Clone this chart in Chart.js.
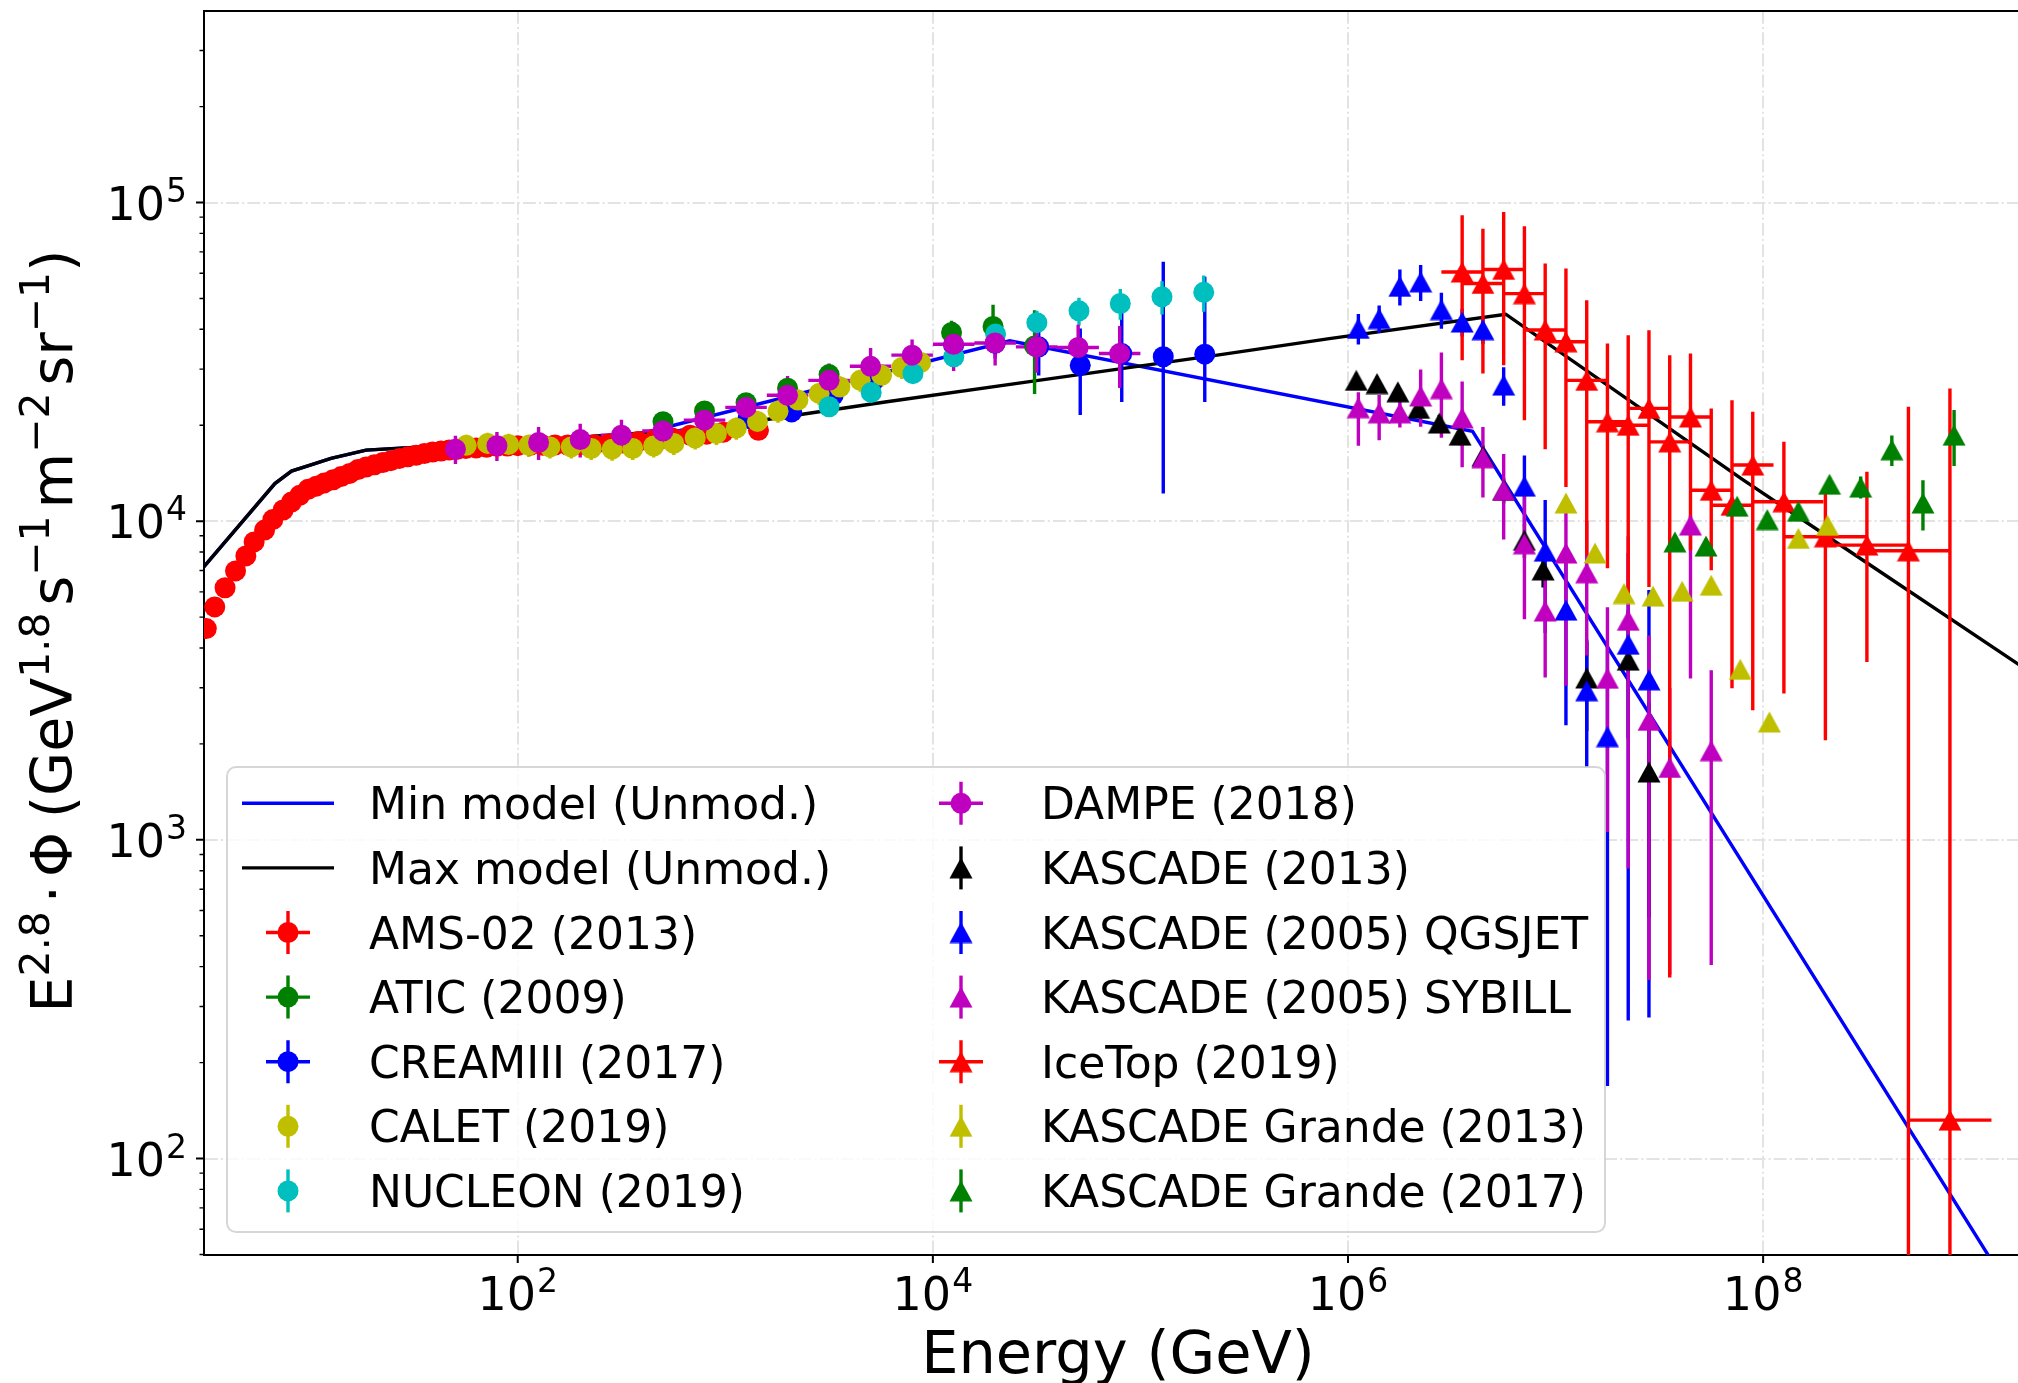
<!DOCTYPE html>
<html>
<head>
<meta charset="utf-8">
<title>Proton flux</title>
<script src="https://cdn.jsdelivr.net/npm/chart.js@4.4.1/dist/chart.umd.min.js"></script>
<style>
html, body { margin: 0; padding: 0; background: #ffffff; overflow: hidden; }
#flux { display: block; }
</style>
</head>
<body>
<canvas id="flux" width="2018" height="1383"></canvas>
<script>
"use strict";

// ---- axes ----
const xTicks = [1e2, 1e4, 1e6, 1e8];
const xTickExps = ['2', '4', '6', '8'];
const yTicks = [1e2, 1e3, 1e4, 1e5];
const yTickExps = ['2', '3', '4', '5'];

// ---- models ----
const minModelE = [2.82, 6.76, 8.13, 10, 12.6, 18.6, 100, 398, 23442, 3.981e6, 2.0e9];
const minModelF = [6730, 13122, 14355, 15000, 15740, 16711, 17783, 18880, 36813, 19143, 29.6];
const maxModelE = [2.82, 6.76, 8.13, 10, 12.6, 18.6, 100, 603, 1585, 5888, 31623, 234423, 812831, 5.754e6, 7.943e7, 2.630e8, 2.0e9];
const maxModelF = [6730, 13122, 14355, 15000, 15740, 16711, 17783, 19275, 20845, 23660, 27606, 33189, 37411, 44618, 13521, 8017, 3311];

// ---- direct measurements ----
const amsE = [3.16, 3.47, 3.89, 4.37, 4.90, 5.37, 6.03, 6.61, 7.41, 8.13, 8.91, 9.77, 10.7, 11.7, 12.9, 14.1, 15.5, 17.0, 18.6, 20.4,
  22.4, 24.5, 26.9, 29.5, 32.4, 35.5, 38.9, 42.7, 46.8, 51.3, 56.2, 63.1, 70.8, 79.4, 89.1, 100, 115, 132, 151, 174,
  200, 234, 275, 324, 380, 457, 550, 676, 813, 977, 1445];
const amsF = [4603, 5383, 6180, 6982, 7780, 8610, 9376, 10116, 10839, 11482, 12050, 12589, 12882, 13183, 13490, 13804, 14125, 14521, 14791, 15031,
  15276, 15488, 15740, 15922, 16106, 16293, 16482, 16596, 16711, 16827, 16904, 16982, 17061, 17179, 17219, 17258, 17298, 17298, 17338, 17338,
  17378, 17378, 17458, 17579, 17783, 17989, 18281, 18621, 18750, 19010, 19275];

const aticE = [501, 794, 1259, 1995, 3162, 12303, 19498, 30903];
const aticF = [20512, 22182, 23550, 26122, 28840, 39084, 40832, 35481];
const aticErr = [1030, 1330, 1650, 1830, 2300, 3500, 6950, 10400];

const creamE = [1288, 2089, 3311, 5129, 8128, 12589, 19953, 32359, 51286, 81283, 128825, 204174];
const creamF = [20989, 22029, 24831, 27353, 30903, 35645, 36141, 35237, 30832, 33574, 32810, 33420];
const creamErrLo = [1000, 1100, 1200, 1400, 1500, 2500, 3700, 6600, 9300, 9900, 20600, 9760];
const creamErrHi = [1000, 1100, 1200, 1400, 1500, 2500, 3000, 4500, 9440, 17600, 32350, 25060];

const caletE = [56.5, 71.6, 90.4, 113, 143, 181, 226, 285, 358, 452, 565, 716, 906, 1130, 1429, 1795, 2239, 2831, 3565, 4467, 5662, 7079, 8730];
const caletF = [17298, 17539, 17418, 17298, 17100, 17100, 16904, 16827, 16904, 17219, 17539, 18239, 18836, 19588, 20559, 22131, 23988, 25177, 26363, 27669, 28708, 30339, 31477];
const caletErr = [1384, 1403, 1393, 1384, 1368, 1368, 1352, 1346, 1352, 1378, 1403, 1459, 1507, 1567, 1645, 1770, 1919, 2014, 2109, 2214, 2297, 2427, 2518];

const nucleonE = [3162, 5046, 8017, 12618, 20045, 31696, 50582, 79983, 127057, 201837];
const nucleonF = [22856, 25351, 29040, 32810, 38637, 41976, 45709, 48195, 50582, 52240];
const nucleonErr = [1140, 1270, 1450, 1970, 3090, 3780, 4570, 5300, 6070, 6790];

const dampeE = [50.1, 79.4, 126, 200, 316, 501, 794, 1259, 1995, 3162, 5012, 7943, 12589, 19953, 31623, 50119, 79433];
const dampeF = [16827, 17258, 17660, 18030, 18621, 19187, 20749, 22751, 24831, 27669, 30620, 33189, 35892, 36224, 35237, 35075, 33574];
const dampeErr = [1700, 1800, 2100, 2200, 2200, 2300, 2300, 2300, 3700, 3600, 4300, 4000, 6300, 5400, 6000, 6300, 7400];
const dampeBinLo = [39.8, 63.1, 100, 158, 251, 398, 631, 1000, 1585, 2512, 3981, 6310, 10000, 15849, 25119, 39811, 63096];
const dampeBinHi = [63.1, 100, 158, 251, 398, 631, 1000, 1585, 2512, 3981, 6310, 10000, 15849, 25119, 39811, 63096, 100000];

// ---- air shower measurements ----
const kasc13E = [1.096e6, 1.380e6, 1.738e6, 2.188e6, 2.754e6, 3.467e6, 4.467e6, 5.623e6, 7.079e6, 8.710e6, 1.413e7, 2.239e7, 2.818e7];
const kasc13F = [27669, 27040, 25468, 22594, 20324, 18621, 15996, 12503, 8710, 7031, 3221, 3664, 1633];
const kasc13Err = [1380, 1350, 1270, 1360, 1220, 1300, 1280, 1130, 1050, 840, 1030, 1580, 1060];

const qgsE = [1.122e6, 1.413e6, 1.778e6, 2.239e6, 2.818e6, 3.548e6, 4.467e6, 5.623e6, 7.079e6, 8.913e6, 1.122e7, 1.413e7, 1.778e7, 2.239e7, 2.818e7];
const qgsF = [40272, 43251, 54575, 56364, 46132, 42170, 39902, 26730, 12882, 8054, 5260, 2938, 2109, 4111, 3177];
const qgsErr = [4400, 4300, 7100, 7300, 6000, 4200, 4000, 3700, 3200, 3600, 2970, 1250, 1940, 3840, 2900];

const sybE = [1.122e6, 1.413e6, 1.778e6, 2.239e6, 2.818e6, 3.548e6, 4.467e6, 5.623e6, 7.079e6, 8.913e6, 1.122e7, 1.413e7, 1.778e7, 2.239e7, 2.818e7, 3.548e7, 4.467e7, 5.623e7];
const sybF = [22699, 21878, 21878, 24717, 26062, 21086, 15812, 12503, 8492, 5224, 7943, 6887, 3214, 4887, 2371, 1687, 9727, 1905];
const sybErrLo = [5450, 3940, 2200, 4940, 7800, 6330, 3950, 3750, 3570, 1990, 4900, 3100, 2155, 4074, 2008, 1310, 6520, 1500];
const sybErrHi = [2700, 3000, 2200, 5190, 7800, 6330, 3950, 3750, 3570, 1990, 3700, 3100, 2155, 4074, 2008, 1310, 700, 1500];

const iceE = [3.548e6, 4.467e6, 5.623e6, 7.079e6, 8.913e6, 1.122e7, 1.413e7, 1.778e7, 2.239e7, 2.818e7, 3.548e7, 4.467e7, 5.623e7, 7.079e7, 8.913e7, 1.259e8, 1.995e8, 3.162e8, 5.012e8, 7.943e8];
const iceF = [60534, 55719, 61660, 51760, 39810, 36560, 27670, 20510, 20000, 22590, 17740, 21230, 12500, 11220, 15000, 11510, 8933, 8414, 8072, 132];
const iceErrLo = [28540, 26640, 30800, 31010, 22980, 23770, 19850, 13390, 14350, 16380, 17370, 13120, 5480, 8230, 12450, 8630, 6880, 4800, 8072, 132];
const iceErrHi = [30670, 27070, 31770, 32490, 24560, 25530, 21680, 15600, 18330, 17150, 15440, 12360, 10080, 12760, 7030, 6230, 3290, 5870, 14770, 25960];
const iceBinLo = [2.818e6, 3.548e6, 4.467e6, 5.623e6, 7.079e6, 8.913e6, 1.122e7, 1.413e7, 1.778e7, 2.239e7, 2.818e7, 3.548e7, 4.467e7, 5.623e7, 7.079e7, 8.913e7, 1.259e8, 1.995e8, 3.162e8, 5.012e8];
const iceBinHi = [4.467e6, 5.623e6, 7.079e6, 8.913e6, 1.122e7, 1.413e7, 1.778e7, 2.239e7, 2.818e7, 3.548e7, 4.467e7, 5.623e7, 7.079e7, 8.913e7, 1.122e8, 1.950e8, 3.162e8, 5.012e8, 7.943e8, 1.259e9];

const kg13E = [1.122e7, 1.549e7, 2.138e7, 2.951e7, 4.074e7, 5.623e7, 7.762e7, 1.072e8, 1.479e8, 2.042e8];
const kg13F = [11402, 7943, 5929, 5821, 6026, 6295, 3428, 2344, 8831, 9705];
const kg13Err = [570, 400, 300, 290, 300, 310, 170, 120, 440, 490];

const kg17E = [3.758e7, 5.309e7, 7.499e7, 1.047e8, 1.479e8, 2.089e8, 2.951e8, 4.169e8, 5.888e8, 8.318e8];
const kg17F = [8610, 8356, 11143, 10116, 10740, 13062, 12794, 16749, 11402, 18621];
const kg17Err = [430, 420, 560, 510, 540, 650, 1020, 1840, 2050, 3720];

// ---- styling ----
const FAMILY = '"DejaVu Sans", sans-serif';
const C = {r: '#ff0000', g: '#008000', b: '#0000ff', y: '#bfbf00', c: '#00bfbf', m: '#bf00bf', k: '#000000'};
const GRID = '#e3e3e3';
const LW = 3.4;

function triangle(color) {
    const c = document.createElement('canvas');
    c.width = 24;
    c.height = 22;
    const g = c.getContext('2d');
    g.fillStyle = color;
    g.beginPath();
    g.moveTo(12, 0.5);
    g.lineTo(23.5, 21.5);
    g.lineTo(0.5, 21.5);
    g.closePath();
    g.fill();
    return c;
}

function pts(xs, ys) {
    return xs.map((x, i) => ({x: x, y: ys[i]}));
}

const series = [
    {label: 'AMS-02 (2013)', color: C.r, marker: 'o', e: amsE, f: amsF, lx: true, ly: true},
    {label: 'ATIC (2009)', color: C.g, marker: 'o', e: aticE, f: aticF, errLo: aticErr, errHi: aticErr, lx: true, ly: true},
    {label: 'CREAMIII (2017)', color: C.b, marker: 'o', e: creamE, f: creamF, errLo: creamErrLo, errHi: creamErrHi, lx: true, ly: true},
    {label: 'CALET (2019)', color: C.y, marker: 'o', e: caletE, f: caletF, errLo: caletErr, errHi: caletErr, lx: false, ly: true},
    {label: 'NUCLEON (2019)', color: C.c, marker: 'o', e: nucleonE, f: nucleonF, errLo: nucleonErr, errHi: nucleonErr, lx: false, ly: true},
    {label: 'DAMPE (2018)', color: C.m, marker: 'o', e: dampeE, f: dampeF, errLo: dampeErr, errHi: dampeErr, binLo: dampeBinLo, binHi: dampeBinHi, lx: true, ly: true},
    {label: 'KASCADE (2013)', color: C.k, marker: '^', e: kasc13E, f: kasc13F, errLo: kasc13Err, errHi: kasc13Err, lx: false, ly: true},
    {label: 'KASCADE (2005) QGSJET', color: C.b, marker: '^', e: qgsE, f: qgsF, errLo: qgsErr, errHi: qgsErr, lx: false, ly: true},
    {label: 'KASCADE (2005) SYBILL', color: C.m, marker: '^', e: sybE, f: sybF, errLo: sybErrLo, errHi: sybErrHi, lx: false, ly: true},
    {label: 'IceTop (2019)', color: C.r, marker: '^', e: iceE, f: iceF, errLo: iceErrLo, errHi: iceErrHi, binLo: iceBinLo, binHi: iceBinHi, lx: true, ly: true},
    {label: 'KASCADE Grande (2013)', color: C.y, marker: '^', e: kg13E, f: kg13F, errLo: kg13Err, errHi: kg13Err, lx: false, ly: true},
    {label: 'KASCADE Grande (2017)', color: C.g, marker: '^', e: kg17E, f: kg17F, errLo: kg17Err, errHi: kg17Err, lx: false, ly: true}
];
series.forEach(s => { if (s.marker === '^') s.tri = triangle(s.color); });

const models = [
    {label: 'Min model (Unmod.)', color: C.b, e: minModelE, f: minModelF},
    {label: 'Max model (Unmod.)', color: C.k, e: maxModelE, f: maxModelF}
];

// ---- drawing helpers ----
function drawMarker(ctx, s, x, y) {
    if (s.marker === 'o') {
        ctx.fillStyle = s.color;
        ctx.beginPath();
        ctx.arc(x, y, 10.5, 0, Math.PI * 2);
        ctx.fill();
    } else {
        ctx.drawImage(s.tri, x - s.tri.width / 2, y - s.tri.height / 2);
    }
}

function drawPower(ctx, exp, x, y, align) {
    ctx.font = '46px ' + FAMILY;
    const wb = ctx.measureText('10').width;
    ctx.font = '33px ' + FAMILY;
    const we = ctx.measureText(exp).width;
    const total = wb + 1 + we;
    const left = align === 'right' ? x - total : x - total / 2;
    ctx.textAlign = 'left';
    ctx.textBaseline = 'alphabetic';
    ctx.font = '46px ' + FAMILY;
    ctx.fillText('10', left, y);
    ctx.font = '33px ' + FAMILY;
    ctx.fillText(exp, left + wb + 1, y - 18);
}

// text pieces: [string, superscript?, gap after]
function drawRich(ctx, parts, cx, y, size) {
    const sup = Math.round(size * 0.72);
    let total = 0;
    parts.forEach(p => {
        ctx.font = (p[1] ? sup : size) + 'px ' + FAMILY;
        total += ctx.measureText(p[0]).width + p[2];
    });
    let x = cx - total / 2;
    ctx.textAlign = 'left';
    ctx.textBaseline = 'alphabetic';
    parts.forEach(p => {
        ctx.font = (p[1] ? sup : size) + 'px ' + FAMILY;
        ctx.fillText(p[0], x, p[1] ? y - size * 0.4 : y);
        x += ctx.measureText(p[0]).width + p[2];
    });
}

function roundRect(ctx, x, y, w, h, r) {
    ctx.beginPath();
    ctx.moveTo(x + r, y);
    ctx.arcTo(x + w, y, x + w, y + h, r);
    ctx.arcTo(x + w, y + h, x, y + h, r);
    ctx.arcTo(x, y + h, x, y, r);
    ctx.arcTo(x, y, x + w, y, r);
    ctx.closePath();
}

// error bars go under every marker, above the model lines (like matplotlib zorder)
const errorBars = {
    id: 'errorBars',
    afterDatasetDraw(chart, args) {
        if (args.index !== 1) return;
        const ctx = chart.ctx, xs = chart.scales.x, ys = chart.scales.y, a = chart.chartArea;
        ctx.save();
        ctx.beginPath();
        ctx.rect(a.left, a.top, a.right - a.left, a.bottom - a.top);
        ctx.clip();
        ctx.lineWidth = LW;
        series.forEach(s => {
            if (!s.errLo && !s.binLo) return;
            ctx.strokeStyle = s.color;
            ctx.beginPath();
            s.e.forEach((e, i) => {
                const px = xs.getPixelForValue(e);
                const py = ys.getPixelForValue(s.f[i]);
                if (s.errLo) {
                    const lo = s.f[i] - s.errLo[i];
                    ctx.moveTo(px, lo > 0 ? ys.getPixelForValue(lo) : a.bottom + 10);
                    ctx.lineTo(px, ys.getPixelForValue(s.f[i] + s.errHi[i]));
                }
                if (s.binLo) {
                    ctx.moveTo(xs.getPixelForValue(s.binLo[i]), py);
                    ctx.lineTo(xs.getPixelForValue(s.binHi[i]), py);
                }
            });
            ctx.stroke();
        });
        ctx.restore();
    }
};

const decorations = {
    id: 'decorations',
    afterDraw(chart) {
        const ctx = chart.ctx, xs = chart.scales.x, ys = chart.scales.y, a = chart.chartArea;
        ctx.save();
        ctx.fillStyle = '#000';
        ctx.strokeStyle = '#000';

        // top spine
        ctx.lineWidth = 2;
        ctx.beginPath();
        ctx.moveTo(a.left, a.top);
        ctx.lineTo(a.right, a.top);
        ctx.stroke();

        // tick marks
        ctx.beginPath();
        xTicks.forEach(v => {
            const x = xs.getPixelForValue(v);
            ctx.moveTo(x, a.bottom);
            ctx.lineTo(x, a.bottom + 8);
        });
        yTicks.forEach(v => {
            const y = ys.getPixelForValue(v);
            ctx.moveTo(a.left - 8, y);
            ctx.lineTo(a.left, y);
        });
        ctx.stroke();
        ctx.lineWidth = 1.4;
        ctx.beginPath();
        for (let d = 10; d < 1e6; d *= 10) {
            for (let k = 2; k < 10; k++) {
                const v = k * d;
                if (v < ys.min || v > ys.max) continue;
                const y = ys.getPixelForValue(v);
                ctx.moveTo(a.left - 4.5, y);
                ctx.lineTo(a.left, y);
            }
        }
        ctx.stroke();

        // tick labels
        xTicks.forEach((v, i) => drawPower(ctx, xTickExps[i], xs.getPixelForValue(v), 1310, 'center'));
        yTicks.forEach((v, i) => drawPower(ctx, yTickExps[i], 187, ys.getPixelForValue(v) + 17, 'right'));

        // axis titles
        ctx.font = '59px ' + FAMILY;
        ctx.textAlign = 'center';
        ctx.textBaseline = 'alphabetic';
        ctx.fillText('Energy (GeV)', (a.left + a.right) / 2 + 7, 1373);

        ctx.save();
        ctx.translate(72, (a.top + a.bottom) / 2 - 2);
        ctx.rotate(-Math.PI / 2);
        drawRich(ctx, [
            ['E', false, 0], ['2.8', true, 8], ['\u22c5', false, 8], ['\u03a6', false, 14],
            ['(GeV', false, 0], ['1.8', true, 7], ['s', false, 0], ['\u22121', true, 7],
            ['m', false, 0], ['\u22122', true, 7], ['sr', false, 0], ['\u22121', true, 0], [')', false, 0]
        ], 0, 0, 57);
        ctx.restore();

        // legend
        roundRect(ctx, 227, 767, 1378, 465, 9);
        ctx.fillStyle = 'rgba(255,255,255,0.8)';
        ctx.fill();
        ctx.strokeStyle = 'rgba(204,204,204,0.8)';
        ctx.lineWidth = 2;
        ctx.stroke();

        const entries = models.map(m => ({label: m.label, color: m.color, line: true})).concat(series);
        entries.forEach((en, i) => {
            const col = i < 7 ? 0 : 1;
            const row = i % 7;
            const cy = 803.3 + row * 64.6;
            const hx = col === 0 ? 288 : 961;
            const tx = col === 0 ? 369 : 1041;
            ctx.strokeStyle = en.color;
            ctx.lineWidth = LW;
            if (en.line) {
                ctx.beginPath();
                ctx.moveTo(hx - 46, cy);
                ctx.lineTo(hx + 46, cy);
                ctx.stroke();
            } else {
                ctx.beginPath();
                if (en.ly) {
                    ctx.moveTo(hx, cy - 21.5);
                    ctx.lineTo(hx, cy + 21.5);
                }
                if (en.lx) {
                    ctx.moveTo(hx - 22, cy);
                    ctx.lineTo(hx + 22, cy);
                }
                ctx.stroke();
                drawMarker(ctx, en, hx, cy);
            }
            ctx.fillStyle = '#000';
            ctx.font = '44px ' + FAMILY;
            ctx.textAlign = 'left';
            ctx.textBaseline = 'alphabetic';
            ctx.fillText(en.label, tx, cy + 16);
        });
        ctx.restore();
    }
};

// ---- chart ----
const datasets = models.map((m, i) => ({
    label: m.label,
    data: pts(m.e, m.f),
    showLine: true,
    borderColor: m.color,
    borderWidth: LW,
    pointRadius: 0,
    fill: false,
    tension: 0,
    clip: 0,
    order: -i
})).concat(series.map((s, i) => ({
    label: s.label,
    data: pts(s.e, s.f),
    showLine: false,
    pointStyle: s.marker === 'o' ? 'circle' : s.tri,
    pointRadius: 10.5,
    pointBorderWidth: 0,
    pointBackgroundColor: s.color,
    pointBorderColor: s.color,
    clip: 0,
    order: -(i + 2)
})));

const gridDash = [12.8, 3.2, 2, 3.2];

new Chart(document.getElementById('flux'), {
    type: 'scatter',
    data: {datasets: datasets},
    options: {
        responsive: false,
        devicePixelRatio: 1,
        animation: false,
        layout: {autoPadding: false, padding: {top: 11, right: 0, bottom: 0, left: 0}},
        plugins: {
            legend: {display: false},
            tooltip: {enabled: false}
        },
        scales: {
            x: {
                type: 'logarithmic',
                position: 'bottom',
                min: 3.08,
                max: 1.69e9,
                afterBuildTicks: scale => { scale.ticks = xTicks.map(v => ({value: v})); },
                afterFit: scale => { scale.height = 128; },
                ticks: {display: false, autoSkip: false},
                grid: {color: GRID, lineWidth: 2, drawTicks: false},
                border: {display: true, color: '#000', width: 2, dash: gridDash}
            },
            y: {
                type: 'logarithmic',
                position: 'left',
                min: 49.8,
                max: 3.99e5,
                afterBuildTicks: scale => { scale.ticks = yTicks.map(v => ({value: v})); },
                afterFit: scale => { scale.width = 204; },
                ticks: {display: false, autoSkip: false},
                grid: {color: GRID, lineWidth: 2, drawTicks: false},
                border: {display: true, color: '#000', width: 2, dash: gridDash}
            }
        }
    },
    plugins: [errorBars, decorations]
});
</script>
</body>
</html>
